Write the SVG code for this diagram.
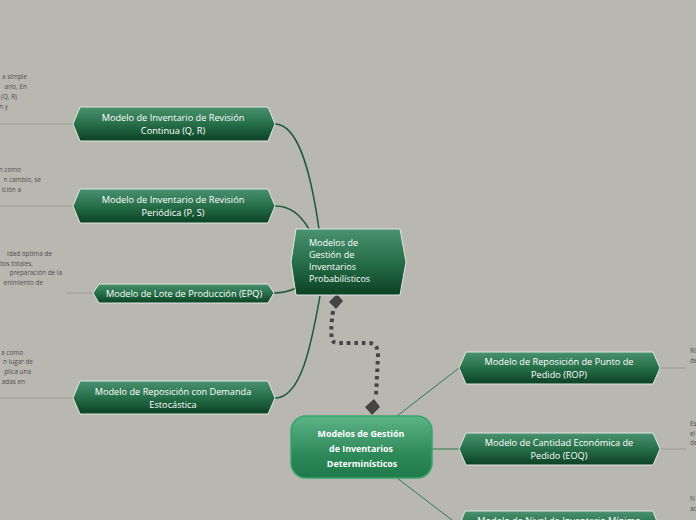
<svg xmlns="http://www.w3.org/2000/svg" width="696" height="520" viewBox="0 0 696 520">
<defs>
<linearGradient id="gDark" x1="0" y1="0" x2="0" y2="1">
<stop offset="0" stop-color="#4a9270"/>
<stop offset="0.5" stop-color="#266f48"/>
<stop offset="1" stop-color="#0b4124"/>
</linearGradient>
<linearGradient id="gLight" x1="0" y1="0" x2="0" y2="1">
<stop offset="0" stop-color="#5db487"/>
<stop offset="0.6" stop-color="#2f8a5a"/>
<stop offset="1" stop-color="#1f7a4a"/>
</linearGradient>
</defs>
<style>
.nd{fill:url(#gDark);stroke:#dfe6df;stroke-width:1}
.nt{font-family:"Open Sans","DejaVu Sans",sans-serif;font-size:9.2px;fill:#ffffff;text-anchor:middle}
.ds{font-family:"Open Sans","DejaVu Sans",sans-serif;font-size:6.4px;fill:#4e4e4e}
.gl{stroke:#9c9b95;stroke-width:1;fill:none}
.cg{stroke:#1b5a38;stroke-width:1.5;fill:none}
.ct{stroke:#2b7a4f;stroke-width:1;fill:none}
</style>
<rect width="696" height="520" fill="#b9b8b0"/>

<g id="descriptions">
<text class="ds" x="27" y="79" text-anchor="end">a simple</text>
<text class="ds" x="27" y="89" text-anchor="end">ario, En</text>
<text class="ds" x="17" y="99" text-anchor="end">(Q, R)</text>
<text class="ds" x="8" y="109" text-anchor="end">n y</text>
<text class="ds" x="21" y="172" text-anchor="end">n como</text>
<text class="ds" x="41" y="182" text-anchor="end">n cambio, se</text>
<text class="ds" x="21" y="192" text-anchor="end">ición a</text>
<text class="ds" x="52" y="256" text-anchor="end">idad óptima de</text>
<text class="ds" x="33" y="266" text-anchor="end">stos totales,</text>
<text class="ds" x="62" y="275" text-anchor="end">preparación de la</text>
<text class="ds" x="43" y="285" text-anchor="end">enimiento de</text>
<text class="ds" x="23" y="355" text-anchor="end">a como</text>
<text class="ds" x="33" y="364" text-anchor="end">n lugar de</text>
<text class="ds" x="31" y="374" text-anchor="end">plica una</text>
<text class="ds" x="25" y="384" text-anchor="end">adas en</text>
<text class="ds" x="690" y="353">RO</text>
<text class="ds" x="690" y="363">de</text>
<text class="ds" x="690" y="426">Es</text>
<text class="ds" x="690" y="436">el</text>
<text class="ds" x="690" y="445">de</text>
<text class="ds" x="690" y="501">N</text>
<text class="ds" x="690" y="511">ac</text>
</g>

<g id="connectors">
<line class="gl" x1="0" y1="124" x2="73" y2="124"/>
<line class="gl" x1="0" y1="206" x2="73" y2="206"/>
<line class="gl" x1="67" y1="293" x2="93" y2="293"/>
<line class="gl" x1="0" y1="398" x2="73" y2="398"/>
<line class="gl" x1="660" y1="368" x2="686" y2="368"/>
<line class="gl" x1="660" y1="449" x2="686" y2="449"/>
<path class="cg" d="M319,229 C312,180 300,124 275,124"/>
<path class="cg" d="M309,229 C300,214 290,206 275,206"/>
<path class="cg" d="M296,288 C288,292 282,293 274,293"/>
<path class="cg" d="M320,296 C312,340 302,398 275,398"/>
<path class="ct" d="M397,416 L459,368"/>
<path class="ct" d="M432,449 L459,449"/>
<path class="ct" d="M397,478 L452,520"/>
<path d="M333,311 C331,325 331,333 332,340 C334,344 340,343 350,343 L370,343 C376,344 378,348 378,356 L376,396" fill="none" stroke="#444" stroke-width="4" stroke-dasharray="3.5 4"/>
<path d="M337,294 L343,301 L336,309 L329,302 Z" fill="#444"/>
<path d="M374,399 L380,407 L372,415 L365,407 Z" fill="#444"/>
</g>

<g id="n-prob">
<path class="nd" d="M296,229 L400,229 L406,262 L400,295 L296,295 L291,262 Z"/>
<text class="nt" style="text-anchor:start;font-size:9px" x="309" y="246">Modelos de</text>
<text class="nt" style="text-anchor:start;font-size:9px" x="309" y="258">Gestión de</text>
<text class="nt" style="text-anchor:start;font-size:9px" x="309" y="270">Inventarios</text>
<text class="nt" style="text-anchor:start;font-size:9px" x="309" y="282">Probabilísticos</text>
</g>

<g id="n-qr">
<path class="nd" d="M73,124 L80,107 L268,107 L275,124 L268,141 L80,141 Z"/>
<text class="nt" x="173" y="121">Modelo de Inventario de Revisión</text>
<text class="nt" x="173" y="134">Continua (Q, R)</text>
</g>
<g id="n-ps">
<path class="nd" d="M73,206 L80,189 L268,189 L275,206 L268,223 L80,223 Z"/>
<text class="nt" x="173" y="203">Modelo de Inventario de Revisión</text>
<text class="nt" x="173" y="216">Periódica (P, S)</text>
</g>
<g id="n-epq">
<path class="nd" d="M93,293 L99,284 L268,284 L274,293 L268,303 L99,303 Z"/>
<text class="nt" x="184" y="297">Modelo de Lote de Producción (EPQ)</text>
</g>
<g id="n-est">
<path class="nd" d="M73,398 L80,381 L268,381 L275,398 L268,414 L80,414 Z"/>
<text class="nt" x="173" y="395">Modelo de Reposición con Demanda</text>
<text class="nt" x="173" y="408">Estocástica</text>
</g>

<g id="n-det">
<rect x="291" y="416" width="141" height="62" rx="15" ry="15" fill="url(#gLight)" stroke="#36a56c" stroke-width="1.5"/>
<text class="nt" style="font-weight:bold;font-size:8.9px" x="361" y="437">Modelos de Gestión</text>
<text class="nt" style="font-weight:bold;font-size:8.9px" x="361" y="452">de Inventarios</text>
<text class="nt" style="font-weight:bold;font-size:8.9px" x="362" y="467">Determinísticos</text>
</g>

<g id="n-rop">
<path class="nd" d="M459,368 L466,352 L653,352 L660,368 L653,384 L466,384 Z"/>
<text class="nt" x="559" y="365">Modelo de Reposición de Punto de</text>
<text class="nt" x="559" y="378">Pedido (ROP)</text>
</g>
<g id="n-eoq">
<path class="nd" d="M459,449 L466,433 L653,433 L660,449 L653,465 L466,465 Z"/>
<text class="nt" x="559" y="446">Modelo de Cantidad Económica de</text>
<text class="nt" x="559" y="459">Pedido (EOQ)</text>
</g>
<g id="n-min">
<path class="nd" d="M459,527 L465,511 L653,511 L659,527 L653,543 L465,543 Z"/>
<text class="nt" x="559" y="524">Modelo de Nivel de Inventario Mínimo</text>
</g>
</svg>
